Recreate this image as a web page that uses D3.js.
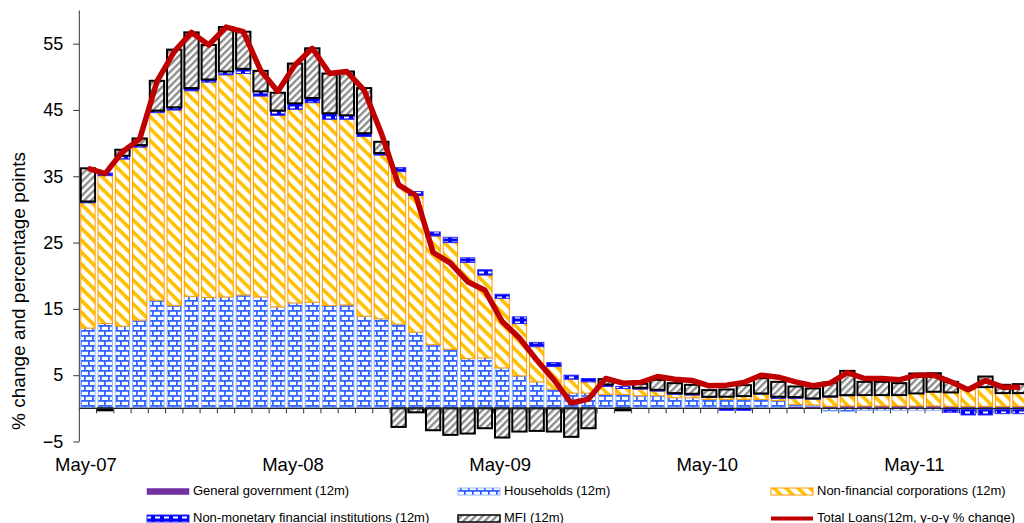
<!DOCTYPE html>
<html>
<head>
<meta charset="utf-8">
<script src="https://cdn.jsdelivr.net/npm/d3@7"></script>
<style>
  html, body { margin: 0; padding: 0; background: #fff; }
  svg { display: block; font-family: "Liberation Sans", Arial, sans-serif; }
</style>
</head>
<body>
<svg id="chart" width="1024" height="523"></svg>
<script>
//////////////// Daten ////////////////////
const months = [
  "May-07","Jun-07","Jul-07","Aug-07","Sep-07","Oct-07","Nov-07","Dec-07",
  "Jan-08","Feb-08","Mar-08","Apr-08","May-08","Jun-08","Jul-08","Aug-08","Sep-08","Oct-08","Nov-08","Dec-08",
  "Jan-09","Feb-09","Mar-09","Apr-09","May-09","Jun-09","Jul-09","Aug-09","Sep-09","Oct-09","Nov-09","Dec-09",
  "Jan-10","Feb-10","Mar-10","Apr-10","May-10","Jun-10","Jul-10","Aug-10","Sep-10","Oct-10","Nov-10","Dec-10",
  "Jan-11","Feb-11","Mar-11","Apr-11","May-11","Jun-11","Jul-11","Aug-11","Sep-11","Oct-11","Nov-11"
];

// contributions in percentage points
const generalGovernment = [
  0.1, 0.1, 0.1, 0.1, 0.1, 0.1, 0.1, 0.1, 0.1, 0.1,
  0.1, 0.1, 0.1, 0.1, 0.1, 0.1, 0.1, 0.1, 0.1, 0.1,
  0.1, 0.1, 0.1, 0.1, 0.1, 0.1, 0.1, 0.1, 0.1, 0.1,
  0.1, 0.1, 0.1, 0.1, 0.1, 0.1, 0.1, 0.1, 0.1, 0.1,
  0.1, 0.3, 0.3, 0.3, 0.35, 0.35, 0.35, 0.35, 0.35, 0.35,
  0.3, 0.3, 0.3, 0.3, 0.3
];
const households = [
  12.0, 12.7, 12.3, 13.2, 16.2, 15.4, 16.8, 16.6, 16.7, 17.0,
  16.7, 15.2, 15.8, 15.9, 15.4, 15.5, 13.8, 13.4, 12.6, 11.4,
  9.5, 8.8, 7.4, 7.5, 6.0, 4.8, 3.9, 2.8, 2.2, 2.2,
  2.0, 2.0, 1.8, 1.8, 1.5, 1.5, 1.25, 1.25, 1.25, 1.25,
  1.1, 0.3, 0.2, -0.4, -0.5, -0.3, -0.3, -0.3, -0.3, -0.3,
  -0.2, -0.2, -0.2, -0.2, -0.2
];
const nonFinCorp = [
  18.9, 22.3, 25.2, 26.1, 28.3, 29.5, 31.0, 32.5, 33.5, 33.4,
  30.3, 28.9, 29.2, 30.1, 28.1, 28.0, 27.1, 24.7, 23.0, 20.6,
  16.4, 16.1, 14.5, 12.5, 10.5, 7.9, 5.3, 3.4, 2.1, 1.7,
  1.2, 0.9, 1.0, 0.7, 0.5, 0.4, 0.3, 0.4, 0.5, 0.8,
  0.3, 0.9, 0.9, 1.4, 1.55, 1.65, 1.65, 1.65, 1.9, 2.15,
  2.1, 2.7, 2.9, 2.0, 2.0
];
const nonMonFin = [
  0.2, 0.4, 0.5, 0.3, 0.3, 0.4, 0.4, 0.4, 0.5, 0.7,
  0.7, 0.7, 0.9, 0.7, 0.9, 0.6, 0.5, 0.3, 0.6, 0.6,
  0.6, 0.8, 0.7, 0.8, 0.6, 1.0, 0.65, 0.6, 0.6, 0.5,
  0.3, 0.3, 0.2, 0.2, 0.2, 0.2, 0.1, -0.3, -0.3, 0.1,
  0.25, 0.2, 0.1, 0.1, 0.1, 0.0, 0.0, 0.0, 0.0, 0.0,
  -0.4, -0.8, -0.8, -0.6, -0.6
];
const mfi = [
  5.0, -0.3, 0.9, 1.0, 4.5, 8.7, 8.4, 5.2, 6.7, 5.6,
  3.1, 2.7, 6.0, 7.5, 6.0, 6.6, 6.8, 1.7, -2.8, -0.6,
  -3.3, -4.0, -3.8, -3.0, -4.4, -3.5, -3.4, -3.5, -4.3, -3.0,
  0.8, -0.3, 0.6, 1.5, 1.5, 1.35, 1.0, 1.1, 1.65, 2.3,
  2.25, 1.6, 1.5, 2.1, 3.65, 2.0, 2.0, 1.8, 3.0, 2.8,
  1.6, 0.0, 1.6, 1.25, 1.35
];
// total loans, 12m y-o-y % change
const totalLoans = [
  36.2, 35.4, 38.7, 40.6, 49.3, 53.8, 56.7, 54.8, 57.5, 56.8,
  51.0, 47.8, 51.8, 54.3, 50.5, 50.8, 48.0, 41.5, 33.7, 32.1,
  23.5, 21.9, 19.1, 17.8, 13.1, 10.6, 7.3, 4.3, 0.8, 1.4,
  4.5, 3.8, 3.9, 4.8, 4.4, 4.2, 3.4, 3.5, 3.9, 5.0,
  4.7, 4.0, 3.4, 3.8, 5.4, 4.5, 4.5, 4.3, 5.0, 5.0,
  4.0, 2.8, 4.2, 3.2, 3.2
];

const seriesKeys = ["gg", "hh", "nfc", "nmfi", "mfi"];
const legendLabels = [
  "General government (12m)", "Households (12m)", "Non-financial corporations (12m)",
  "Non-monetary financial institutions (12m)", "MFI (12m)", "Total Loans(12m, y-o-y % change)"
];
const yTicks = [-5, 5, 15, 25, 35, 45, 55];
const xTickLabels = ["May-07", "May-08", "May-09", "May-10", "May-11"];

//////////////// Layout ////////////////////
const plot = {left: 79.3, right: 1028.6, top: 10.5, bottom: 441.5};
const fontFam = '"Liberation Sans", Arial, sans-serif';

const rows = months.map(function(m, i) {
  return {month: m, gg: generalGovernment[i], hh: households[i], nfc: nonFinCorp[i],
          nmfi: nonMonFin[i], mfi: mfi[i]};
});

const x = d3.scaleBand().domain(months)
  .range([plot.left, plot.right])
  .paddingInner(0.17).paddingOuter(0.085);
const y = d3.scaleLinear().domain([-5, 60]).range([plot.bottom, plot.top]);

const svg = d3.select("#chart");

//////////////// Muster ////////////////////
const defs = svg.append("defs");

// households: brick
const pHH = defs.append("pattern").attr("id", "pHH")
  .attr("patternUnits", "userSpaceOnUse").attr("width", 8).attr("height", 10);
pHH.append("rect").attr("width", 8).attr("height", 10).attr("fill", "#fff");
pHH.append("rect").attr("x", 0).attr("y", 0).attr("width", 8).attr("height", 1.8).attr("fill", "#3366ff");
pHH.append("rect").attr("x", 0).attr("y", 5).attr("width", 8).attr("height", 1.8).attr("fill", "#3366ff");
pHH.append("rect").attr("x", 0).attr("y", 0).attr("width", 1.8).attr("height", 5).attr("fill", "#3366ff");
pHH.append("rect").attr("x", 4).attr("y", 5).attr("width", 1.8).attr("height", 5).attr("fill", "#3366ff");

// non-financial corporations: orange "\" stripes
const pNFC = defs.append("pattern").attr("id", "pNFC")
  .attr("patternUnits", "userSpaceOnUse").attr("width", 8.5).attr("height", 8.5)
  .attr("patternTransform", "rotate(45)");
pNFC.append("rect").attr("width", 8.5).attr("height", 8.5).attr("fill", "#fff");
pNFC.append("rect").attr("width", 8.5).attr("height", 3.6).attr("fill", "#ffc000");

// MFI: grey "/" stripes
const pMFI = defs.append("pattern").attr("id", "pMFI")
  .attr("patternUnits", "userSpaceOnUse").attr("width", 5).attr("height", 5)
  .attr("patternTransform", "rotate(-45)");
pMFI.append("rect").attr("width", 5).attr("height", 5).attr("fill", "#fff");
pMFI.append("rect").attr("width", 5).attr("height", 2.4).attr("fill", "#8c8c8c");

// non-monetary FI: blue with white dashes
const pNM = defs.append("pattern").attr("id", "pNM")
  .attr("patternUnits", "userSpaceOnUse").attr("width", 9).attr("height", 5);
pNM.append("rect").attr("width", 9).attr("height", 5).attr("fill", "#0000ff");
pNM.append("rect").attr("x", 2).attr("y", 1.5).attr("width", 5).attr("height", 2).attr("fill", "#fff");

const styles = {
  gg:   {fill: "#7030a0", stroke: "#7030a0", sw: 0.5},
  hh:   {fill: "url(#pHH)", stroke: "#9ab8ff", sw: 1},
  nfc:  {fill: "url(#pNFC)", stroke: "#ff9900", sw: 1},
  nmfi: {fill: "url(#pNM)", stroke: "#2b2bff", sw: 1},
  mfi:  {fill: "url(#pMFI)", stroke: "#000", sw: 2}
};

//////////////// Balken ////////////////////
const stacked = d3.stack().keys(seriesKeys).offset(d3.stackOffsetDiverging)(rows);

svg.append("g").attr("class", "bars")
  .selectAll("g").data(stacked).enter().append("g")
  .each(function(s) {
    const st = styles[s.key];
    d3.select(this).selectAll("rect")
      .data(s.filter(function(d) { return d[1] - d[0] !== 0; }))
      .enter().append("rect")
      .attr("x", function(d) { return x(d.data.month); })
      .attr("width", x.bandwidth())
      .attr("y", function(d) { return y(Math.max(d[0], d[1])); })
      .attr("height", function(d) { return Math.abs(y(d[0]) - y(d[1])); })
      .attr("fill", st.fill)
      .attr("stroke", st.stroke)
      .attr("stroke-width", st.sw);
  });

//////////////// Achsen ////////////////////
const yAxis = svg.append("g")
  .attr("transform", "translate(" + plot.left + ",0)")
  .call(d3.axisLeft(y).tickValues(yTicks).tickSize(6).tickSizeOuter(0).tickPadding(10));
yAxis.select(".domain").attr("stroke", "#333").attr("d", "M0," + plot.top + "V" + plot.bottom);
yAxis.selectAll(".tick line").attr("stroke", "#333");
yAxis.selectAll(".tick text")
  .attr("font-family", fontFam).attr("font-size", 18).attr("fill", "#000");

const zeroY = y(0);
const xAx = svg.append("g").attr("class", "xaxis");
xAx.append("line")
  .attr("x1", plot.left).attr("x2", plot.right)
  .attr("y1", zeroY).attr("y2", zeroY)
  .attr("stroke", "#222").attr("stroke-width", 1.2);
xAx.selectAll("line.tk").data(d3.range(1, months.length + 1)).enter()
  .append("line").attr("class", "tk")
  .attr("x1", function(i) { return plot.left + i * x.step(); })
  .attr("x2", function(i) { return plot.left + i * x.step(); })
  .attr("y1", zeroY).attr("y2", zeroY + 5)
  .attr("stroke", "#333");
xAx.selectAll("text").data(xTickLabels).enter().append("text")
  .attr("x", function(d) { return x(d) + x.bandwidth() / 2 - 2; })
  .attr("y", 471)
  .attr("text-anchor", "middle")
  .attr("font-family", fontFam).attr("font-size", 18.5)
  .text(function(d) { return d; });

svg.append("text")
  .attr("transform", "translate(25,291) rotate(-90)")
  .attr("text-anchor", "middle")
  .attr("font-family", fontFam).attr("font-size", 19)
  .text("% change and percentage points");

//////////////// Linie ////////////////////
const line = d3.line()
  .x(function(d, i) { return x(months[i]) + x.bandwidth() / 2; })
  .y(function(d) { return y(d); });
svg.append("path")
  .datum(totalLoans)
  .attr("d", line)
  .attr("fill", "none")
  .attr("stroke", "#c00000")
  .attr("stroke-width", 5.5)
  .attr("stroke-linejoin", "round");

//////////////// Legende ////////////////////
const legendItems = [
  {key: "gg", col: 0, row: 0}, {key: "hh", col: 1, row: 0}, {key: "nfc", col: 2, row: 0},
  {key: "nmfi", col: 0, row: 1}, {key: "mfi", col: 1, row: 1}, {key: "total", col: 2, row: 1}
];
const legCols = [147, 458, 771], legRows = [490, 517];
const legend = svg.append("g").attr("class", "legend");
legendItems.forEach(function(it, i) {
  const lx = legCols[it.col], ly = legRows[it.row];
  if (it.key === "total") {
    legend.append("line").attr("x1", lx).attr("x2", lx + 42)
      .attr("y1", ly + 1.5).attr("y2", ly + 1.5)
      .attr("stroke", "#c00000").attr("stroke-width", 4);
  } else {
    const st = styles[it.key];
    const h = it.key === "gg" ? 6 : 7;
    legend.append("rect").attr("x", lx).attr("y", ly + 1.5 - h / 2)
      .attr("width", 42).attr("height", h)
      .attr("fill", st.fill).attr("stroke", st.stroke)
      .attr("stroke-width", it.key === "mfi" ? 1.5 : st.sw);
  }
  legend.append("text")
    .attr("x", lx + 46).attr("y", ly + 4.5)
    .attr("font-family", fontFam).attr("font-size", 13)
    .text(legendLabels[i]);
});
</script>
</body>
</html>
